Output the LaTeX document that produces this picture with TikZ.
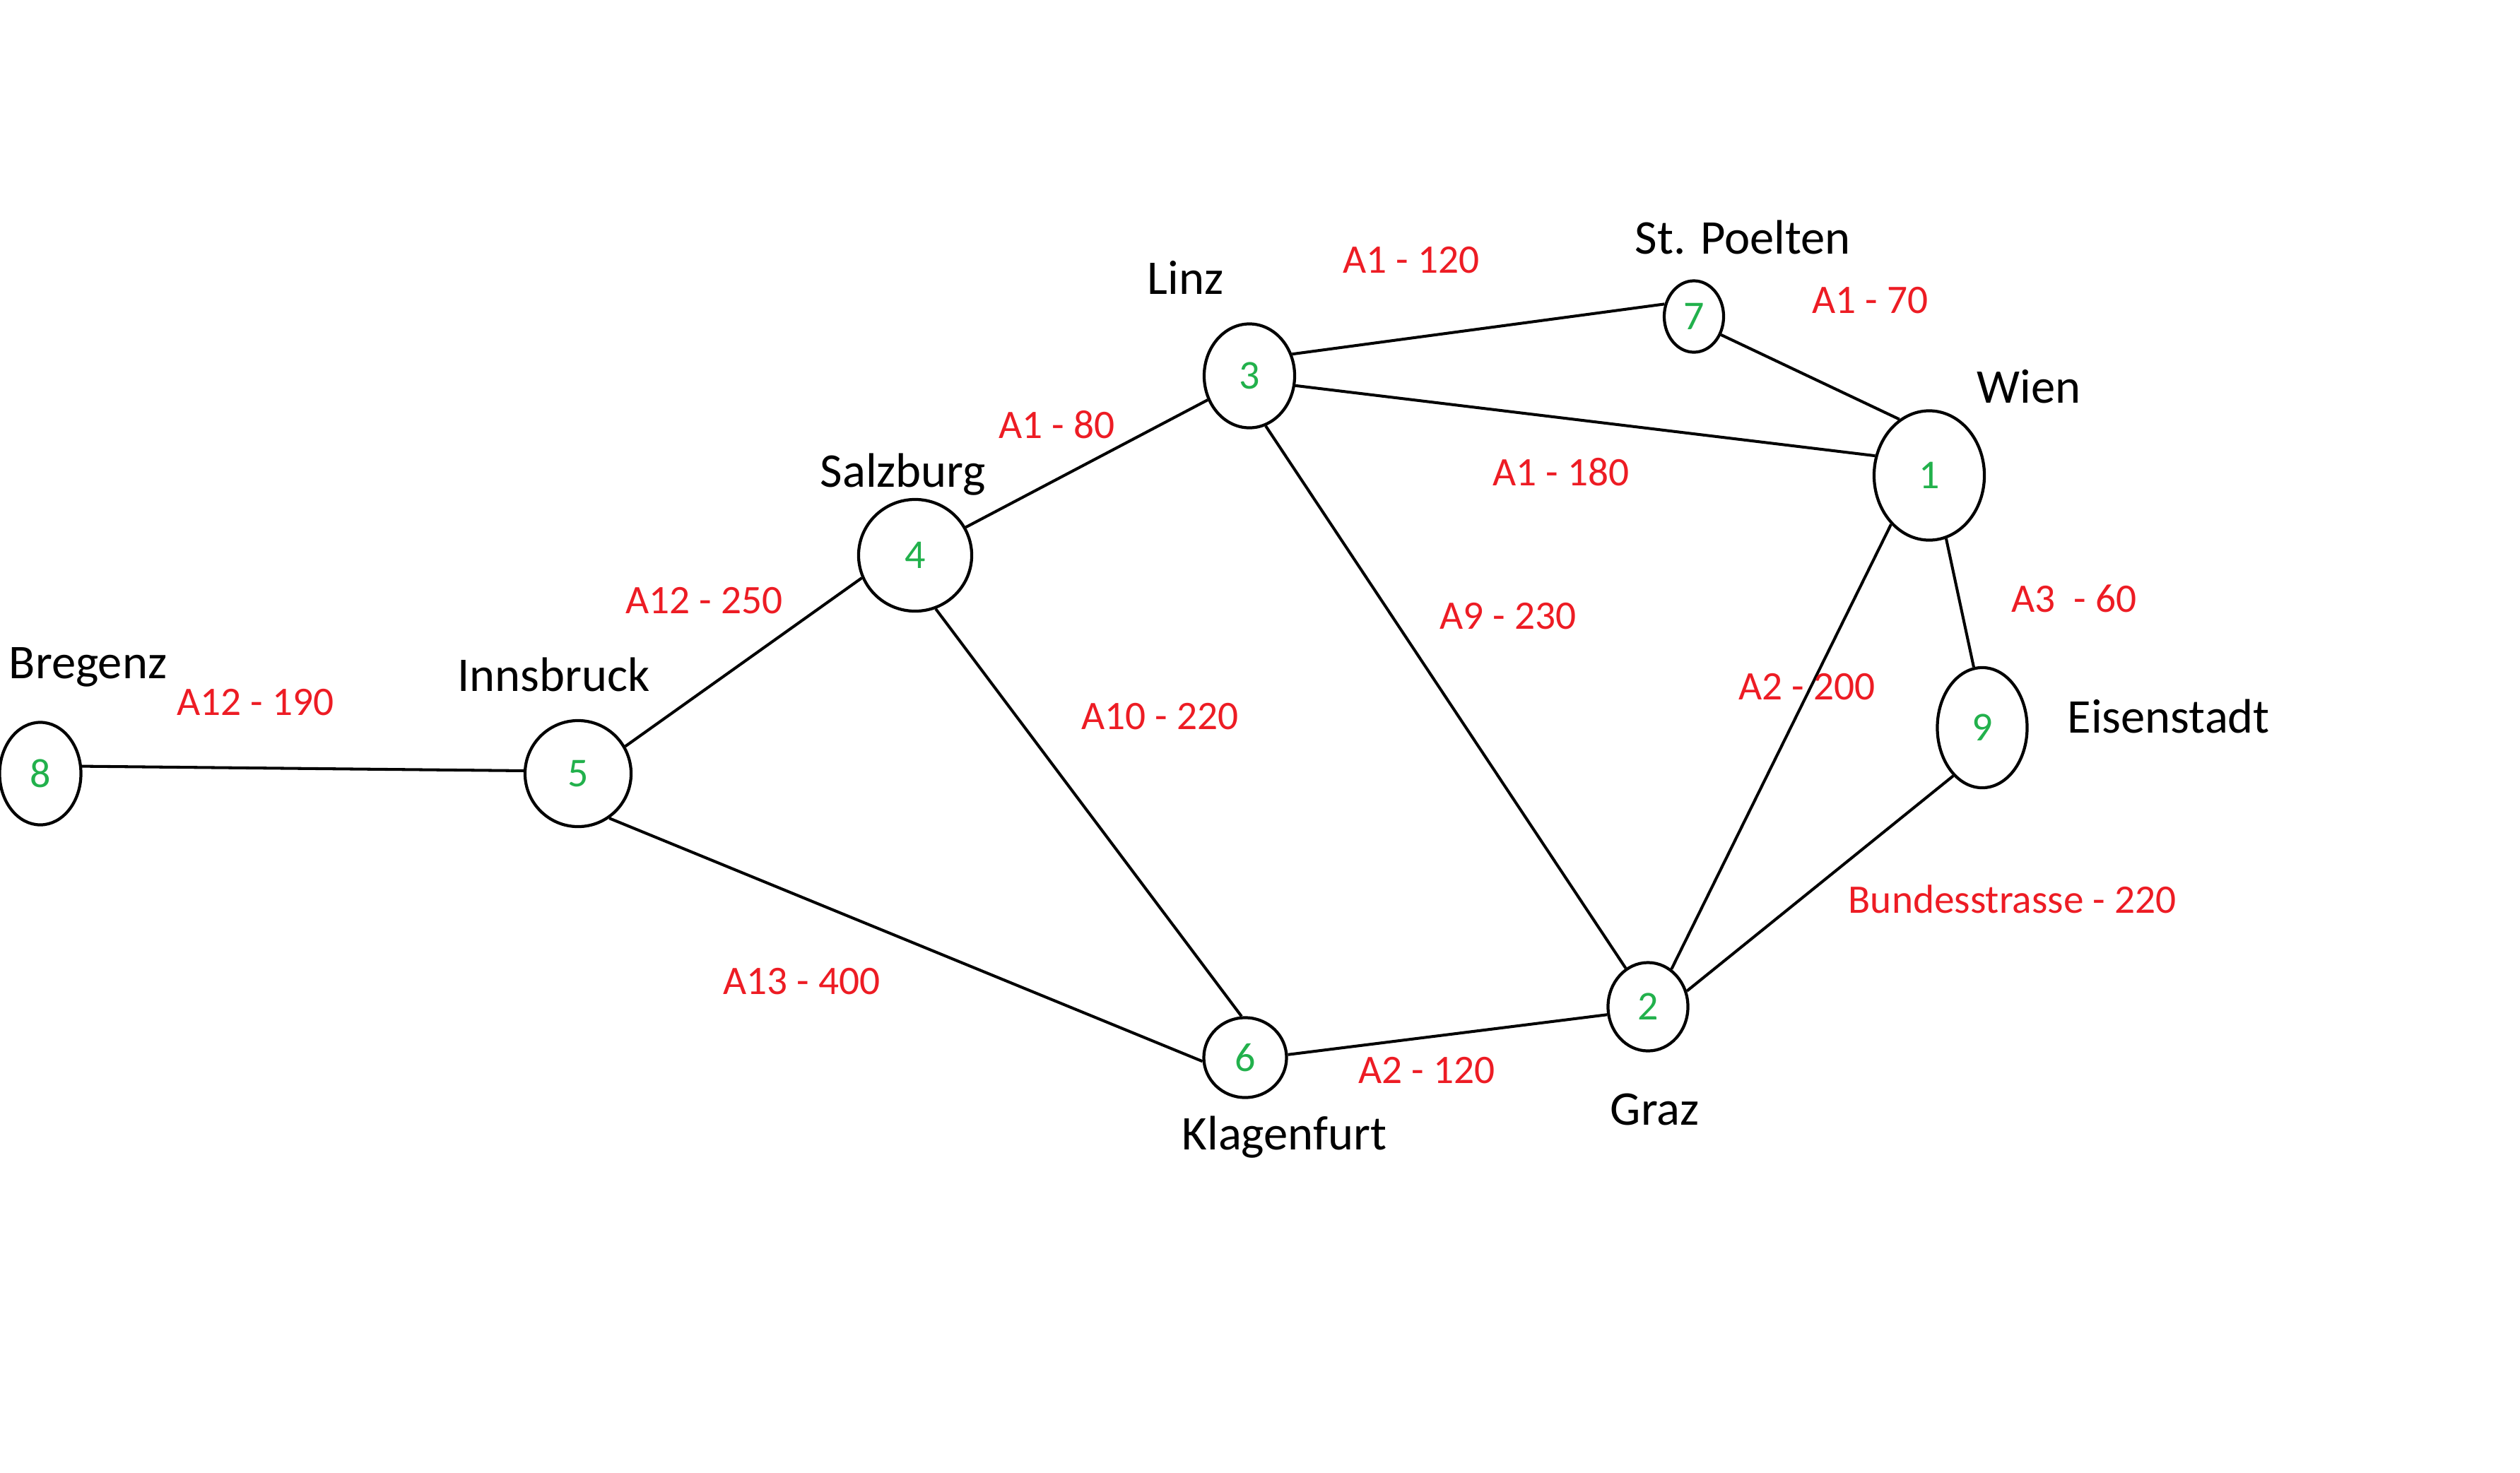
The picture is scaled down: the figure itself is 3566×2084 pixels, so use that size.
\documentclass[tikz,border=0pt]{standalone}
\usepackage{fontspec}
\setmainfont{Carlito}
\usetikzlibrary{shapes.geometric}
\definecolor{roadred}{RGB}{237,28,36}
\definecolor{numgreen}{RGB}{34,177,76}
\tikzset{
  town/.style={ellipse, draw=black, line width=1.2pt, inner sep=0pt, text=numgreen, font=\fontsize{16.5}{19}\selectfont},
  road/.style={draw=black, line width=1.15pt},
  cityname/.style={anchor=base west, inner sep=0pt, text=black, font=\fontsize{19.5}{23}\selectfont},
  roadlabel/.style={anchor=base west, inner sep=0pt, text=roadred, font=\fontsize{16.3}{19}\selectfont}
}
\begin{document}
\begin{tikzpicture}[x=0.01cm, y=-0.01cm]
\useasboundingbox[fill=white] (0,0) rectangle (3566,2084);
% towns
\node[town, minimum width=1.15cm, minimum height=1.45cm] (n8) at (57,1095) {8};
\node[town, minimum width=1.50cm, minimum height=1.50cm] (n5) at (818,1095) {5};
\node[town, minimum width=1.60cm, minimum height=1.58cm] (n4) at (1295,786) {4};
\node[town, minimum width=1.28cm, minimum height=1.47cm] (n3) at (1768,532) {3};
\node[town, minimum width=0.84cm, minimum height=1.01cm] (n7) at (2397,448) {7};
\node[town, minimum width=1.56cm, minimum height=1.83cm] (n1) at (2730,673) {1};
\node[town, minimum width=1.27cm, minimum height=1.70cm] (n9) at (2805,1030) {9};
\node[town, minimum width=1.13cm, minimum height=1.25cm] (n2) at (2332,1425) {2};
\node[town, minimum width=1.17cm, minimum height=1.13cm] (n6) at (1762,1497) {6};
% roads
\draw[road] (n8.10) -- (n5.177);
\draw[road] (n5.30) -- (n4.203);
\draw[road] (n5.-55) -- (n6.185);
\draw[road] (n4.29) -- (n3.210);
\draw[road] (n4.-69) -- (n6.95);
\draw[road] (n3.27) -- (n7.157);
\draw[road] (n3.-12) -- (n1.160);
\draw[road] (n3.-72) -- (n2.120);
\draw[road] (n7.-34) -- (n1.118);
\draw[road] (n1.-128) -- (n2.58);
\draw[road] (n1.-75) -- (n9.98);
\draw[road] (n9.-121) -- (n2.22);
\draw[road] (n6.4) -- (n2.191);
% city names
\node[cityname] (tBregenz) at (12,960) {Bregenz};
\node[cityname] (tInnsbruck) at (647,978) {Innsbruck};
\node[cityname] (tSalzburg) at (1160,689) {Salzburg};
\node[cityname] (tLinz) at (1623,416) {Linz};
\node[cityname] (tStPoelten) at (2313,359) {St. Poelten};
\node[cityname] (tWien) at (2797,570) {Wien};
\node[cityname] (tEisenstadt) at (2925,1037) {Eisenstadt};
\node[cityname] (tKlagenfurt) at (1672,1627) {Klagenfurt};
\node[cityname] (tGraz) at (2278,1592) {Graz};
% road labels
\node[roadlabel] (l85) at (250,1012) {A12 - 190};
\node[roadlabel] (l54) at (885,868) {A12 - 250};
\node[roadlabel] (l43) at (1413,620) {A1 - 80};
\node[roadlabel] (l37) at (1900,386) {A1 - 120};
\node[roadlabel] (l71) at (2564,443) {A1 - 70};
\node[roadlabel] (l31) at (2112,687) {A1 - 180};
\node[roadlabel] (l32) at (2037,890) {A9 - 230};
\node[roadlabel] (l46) at (1530,1032) {A10 - 220};
\node[roadlabel] (l19) at (2846,866) {A3~~- 60};
\node[roadlabel] (l12) at (2460,990) {A2 - 200};
\node[roadlabel] (l92) at (2615,1292) {Bundesstrasse - 220};
\node[roadlabel] (l56) at (1023,1407) {A13 - 400};
\node[roadlabel] (l62) at (1922,1533) {A2 - 120};
\end{tikzpicture}
\end{document}
